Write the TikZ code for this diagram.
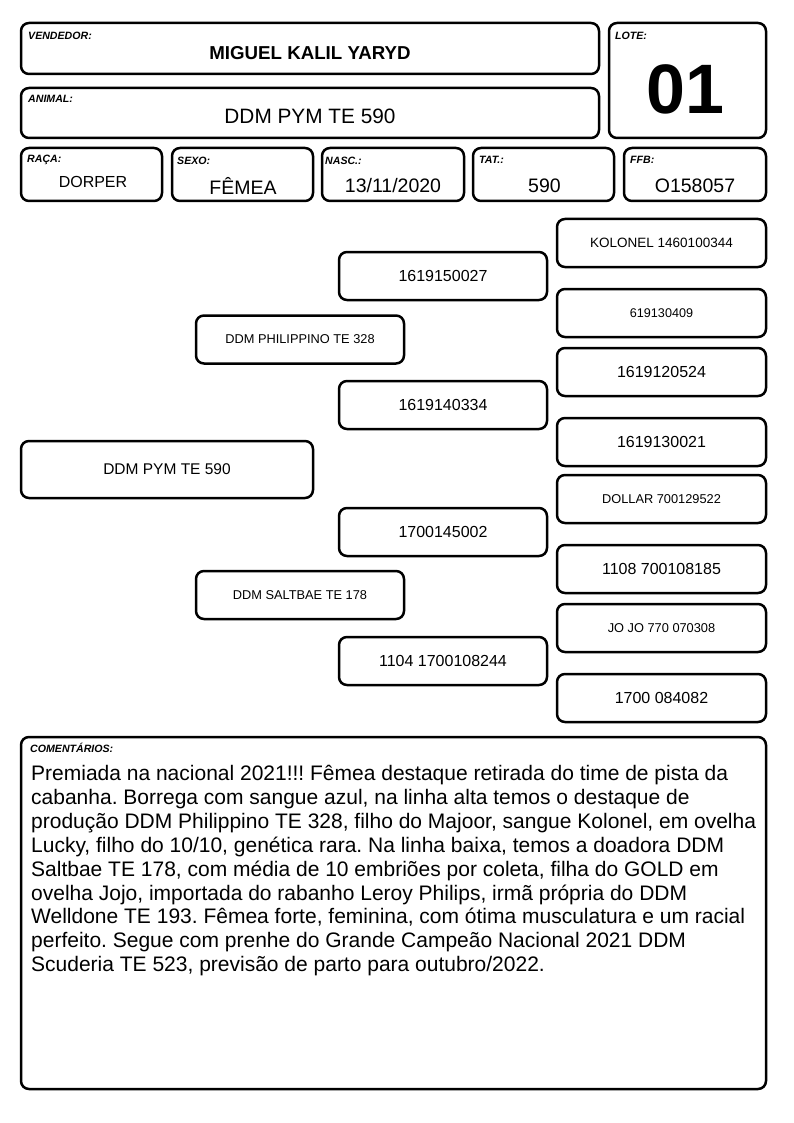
\documentclass[tikz,border=0pt]{standalone}
\usepackage{fontspec}
\setmainfont{Liberation Sans}
\frenchspacing
\newcommand{\fsz}[1]{\fontsize{#1}{#1}\selectfont}
\begin{document}
\begin{tikzpicture}[x=1pt,y=-1pt,
  card/.style={draw=black, line width=2.5pt, rounded corners=8pt, fill=white, inner sep=0pt},
  lbl/.style={anchor=north west, inner sep=0pt, font=\fsz{10.6}\bfseries\itshape},
  val/.style={inner sep=0pt, font=\fsz{19.5}},
  ped/.style={card, minimum width=208pt, minimum height=48pt, inner sep=0pt}
]
\useasboundingbox[fill=white] (0,0) rectangle (794,1123);

% header
\node[card, minimum width=578pt, minimum height=51pt] (vend) at (310,48.5) {};
\node[lbl] (vendl) at (28,31.5) {VENDEDOR:};
\node[inner sep=0pt, font=\fsz{18.7}\bfseries] (vendv) at (310,53) {MIGUEL KALIL YARYD};

\node[card, minimum width=578pt, minimum height=50pt] (anim) at (310,113) {};
\node[lbl] (animl) at (28,95) {ANIMAL:};
\node[inner sep=0pt, font=\fsz{20.8}] (animv) at (310,116) {DDM PYM TE 590};

\node[card, minimum width=157pt, minimum height=115pt] (lote) at (687.5,80.5) {};
\node[lbl] (lotel) at (615,31.5) {LOTE:};
\node[inner sep=0pt, font=\fsz{70}\bfseries] (lotev) at (685,89.5) {01};

% info row
\node[card, minimum width=141pt, minimum height=53pt] (raca) at (91.5,174.5) {};
\node[lbl] (racal) at (27,155) {RAÇA:};
\node[inner sep=0pt, font=\fsz{16}] (racav) at (93,182) {DORPER};

\node[card, minimum width=141pt, minimum height=53pt] (sexo) at (242.5,174.5) {};
\node[lbl] (sexol) at (177,156.5) {SEXO:};
\node[val] (sexov) at (243,186) {FÊMEA};

\node[card, minimum width=142pt, minimum height=53pt] (nasc) at (393,174.5) {};
\node[lbl] (nascl) at (325,156.5) {NASC.:};
\node[val] (nascv) at (393,186) {13/11/2020};

\node[card, minimum width=141pt, minimum height=53pt] (tat) at (543.5,174.5) {};
\node[lbl] (tatl) at (479,156.5) {TAT.:};
\node[val] (tatv) at (544.5,186) {590};

\node[card, minimum width=142pt, minimum height=53pt] (ffb) at (695,174.5) {};
\node[lbl] (ffbl) at (630,156.5) {FFB:};
\node[val] (ffbv) at (695,186) {O158057};

% pedigree
\node[card, minimum width=292pt, minimum height=57pt, font=\fsz{15.5}] (p0) at (167,469.5) {DDM PYM TE 590};

\node[ped, font=\fsz{12.8}] (p1) at (300,339.5) {DDM PHILIPPINO TE 328};
\node[ped, font=\fsz{12.8}] (p2) at (300,595) {DDM SALTBAE TE 178};

\node[ped, font=\fsz{16}] (p11) at (443,276) {1619150027};
\node[ped, font=\fsz{16}] (p12) at (443,405) {1619140334};
\node[ped, font=\fsz{16}] (p21) at (443,532) {1700145002};
\node[ped, font=\fsz{16}] (p22) at (443,661) {1104 1700108244};

\node[ped, minimum width=209pt, font=\fsz{13.5}] (p111) at (661.5,243) {KOLONEL 1460100344};
\node[ped, minimum width=209pt, font=\fsz{12.6}] (p112) at (661.5,313) {619130409};
\node[ped, minimum width=209pt, font=\fsz{16}] (p121) at (661.5,372) {1619120524};
\node[ped, minimum width=209pt, font=\fsz{16}] (p122) at (661.5,442) {1619130021};
\node[ped, minimum width=209pt, font=\fsz{12.8}] (p211) at (661.5,499) {DOLLAR 700129522};
\node[ped, minimum width=209pt, font=\fsz{16}] (p212) at (661.5,569) {1108 700108185};
\node[ped, minimum width=209pt, font=\fsz{12.8}] (p221) at (661.5,628) {JO JO 770 070308};
\node[ped, minimum width=209pt, font=\fsz{16}] (p222) at (661.5,698) {1700 084082};

% comments
\node[card, minimum width=745pt, minimum height=352pt] (com) at (393.5,913) {};
\node[lbl] (coml) at (30,742.5) {COMENTÁRIOS:};
\node[anchor=north west, inner sep=0pt, align=left, font=\fontsize{21}{23.9}\selectfont] (comv) at (31,765) {Premiada na nacional 2021!!! Fêmea destaque retirada do time de pista da\\
cabanha. Borrega com sangue azul, na linha alta temos o destaque de\\
produção DDM Philippino TE 328, filho do Majoor, sangue Kolonel, em ovelha\\
Lucky, filho do 10/10, genética rara. Na linha baixa, temos a doadora DDM\\
Saltbae TE 178, com média de 10 embriões por coleta, filha do GOLD em\\
ovelha Jojo, importada do rabanho Leroy Philips, irmã própria do DDM\\
Welldone TE 193. Fêmea forte, feminina, com ótima musculatura e um racial\\
perfeito. Segue com prenhe do Grande Campeão Nacional 2021 DDM\\
Scuderia TE 523, previsão de parto para outubro/2022.};
\end{tikzpicture}
\end{document}
